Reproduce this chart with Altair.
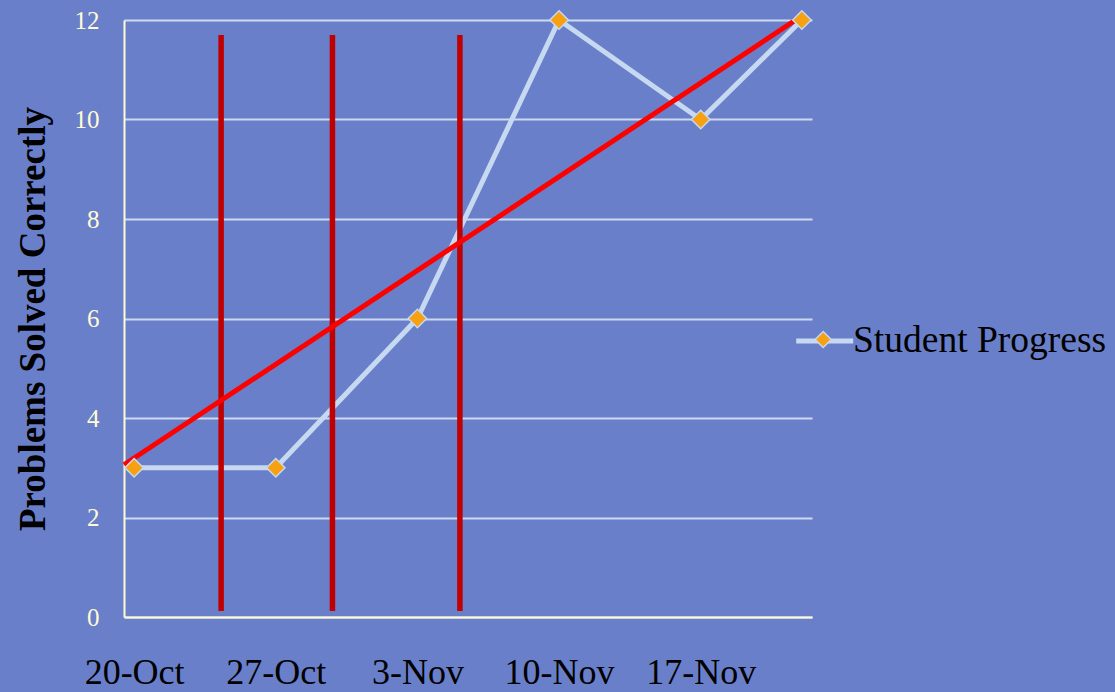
import altair as alt
import pandas as pd

# ---- data ----
tick_days = [0, 7, 14, 21, 28]
tick_labels = ["20-Oct", "27-Oct", "3-Nov", "10-Nov", "17-Nov"]
point_days = [0, 7, 14, 21, 28, 33]
problems = [3, 3, 6, 12, 10, 12]
marker_days = [4.3, 9.8, 16.1]
marker_low = [0.12, 0.12, 0.12]
marker_high = [11.7, 11.7, 11.7]
trend_days = [-0.5, 32.8]
trend_vals = [3.06, 12.03]
series_name = "Student Progress"
y_ticks = [0, 2, 4, 6, 8, 10, 12]

BG = "#6a7fc9"
LINE = "#c6d9f1"
ORANGE = "#f7a012"
CREAM = "#fffbd6"
FONT = "Liberation Serif"

df = pd.DataFrame({
    "day": point_days,
    "value": problems,
    "series": [series_name] * len(point_days),
    "series_f": [series_name] * len(point_days),
})
df_mark = pd.DataFrame({"day": marker_days, "value": marker_low, "value2": marker_high})
df_trend = pd.DataFrame({"day": trend_days, "value": trend_vals})

label_expr = (
    "[" + ",".join("'" + s + "'" for s in tick_labels) + "]"
    "[indexof([" + ",".join(str(d) for d in tick_days) + "], datum.value)]"
)

xscale = alt.Scale(domain=[-0.5, 33.5], nice=False, zero=False)
yscale = alt.Scale(domain=[0, 12], nice=False)

x_enc = alt.X("day:Q", scale=xscale,
              axis=alt.Axis(values=tick_days, labelExpr=label_expr, title=None, grid=False))
y_enc = alt.Y("value:Q", scale=yscale,
              axis=alt.Axis(values=y_ticks, title="Problems Solved Correctly", grid=True))

LEG_X = 664
LEG_Y = 290
SYM = 3249

line = alt.Chart(df).mark_line(strokeWidth=5).encode(
    x=x_enc,
    y=y_enc,
    stroke=alt.Stroke(
        "series:N",
        scale=alt.Scale(range=[LINE]),
        legend=alt.Legend(
            orient="none", legendX=LEG_X, legendY=LEG_Y, title=None,
            symbolType="M-0.8,0H1.2", symbolSize=SYM, symbolStrokeWidth=5,
            labelFont=FONT, labelFontSize=37.5, labelColor="black",
            labelOffset=3, padding=0, labelLimit=400,
        ),
    ),
)

rules = alt.Chart(df_mark).mark_rule(color="#c00000", strokeWidth=5.5).encode(
    x=alt.X("day:Q", scale=xscale),
    y=alt.Y("value:Q", scale=yscale),
    y2="value2:Q",
)

trend = alt.Chart(df_trend).mark_line(color="#ff0000", strokeWidth=5).encode(
    x=alt.X("day:Q", scale=xscale),
    y=alt.Y("value:Q", scale=yscale),
)

points = alt.Chart(df).mark_point(
    shape="diamond", filled=True, size=340, stroke=LINE, strokeWidth=1.5, opacity=1
).encode(
    x=alt.X("day:Q", scale=xscale),
    y=alt.Y("value:Q", scale=yscale),
    fill=alt.Fill(
        "series_f:N",
        scale=alt.Scale(range=[ORANGE]),
        legend=alt.Legend(
            orient="none", legendX=LEG_X, legendY=LEG_Y, title=None,
            symbolType="M0.2,-0.28L0.48,0L0.2,0.28L-0.08,0Z", symbolSize=SYM,
            symbolStrokeColor=LINE, symbolStrokeWidth=1.5, symbolFillColor=ORANGE,
            labelFont=FONT, labelFontSize=37.5, labelColor="black",
            labelExpr="''", labelOffset=3, padding=0, labelLimit=400,
        ),
    ),
)

chart = alt.layer(line, rules, trend, points).properties(
    width=688,
    height=597,
    autosize="none",
    padding={"left": 124, "top": 20, "right": 303, "bottom": 75},
    background=BG,
).configure_view(
    stroke=None,
).configure_axis(
    domainColor=CREAM,
    domainWidth=2,
    ticks=False,
    gridColor="#cdd9f2",
    gridWidth=2,
).configure_axisY(
    labelFont=FONT,
    labelFontSize=25,
    labelColor=CREAM,
    labelPadding=25,
    titleFont=FONT,
    titleFontSize=37,
    titleFontWeight="bold",
    titleColor="black",
    titlePadding=22,
).configure_axisX(
    labelFont=FONT,
    labelFontSize=36,
    labelColor="black",
    labelPadding=38,
)

chart.save("out.html", embed_options={"renderer": "svg", "actions": False})
